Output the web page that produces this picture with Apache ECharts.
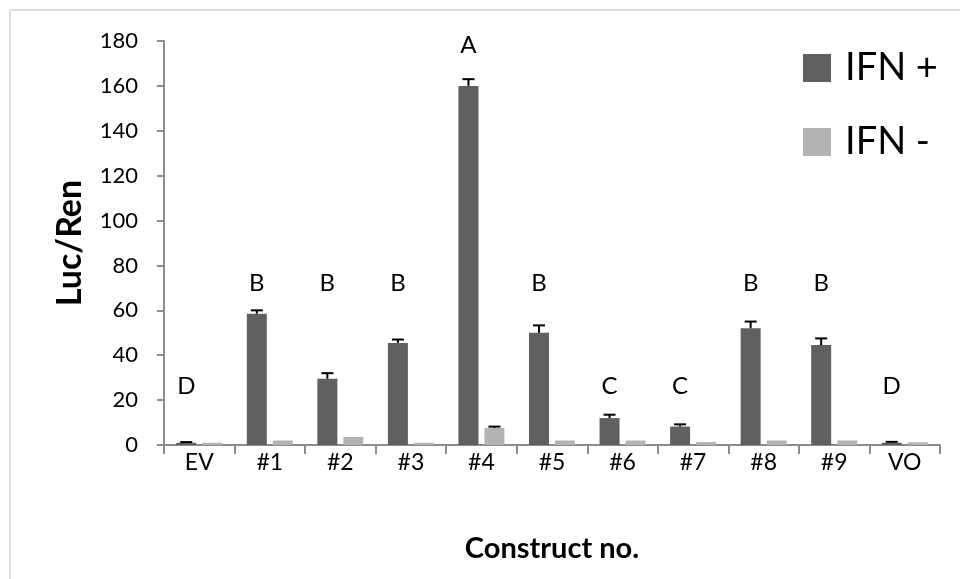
<!DOCTYPE html>
<html>
<head>
<meta charset="utf-8">
<script src="https://cdn.jsdelivr.net/npm/echarts@6/dist/echarts.min.js"></script>
<style>html,body{margin:0;padding:0;background:#fff}#c{width:960px;height:579px}</style>
</head>
<body>
<div id="c"></div>
<script>
const categories = ['EV', '#1', '#2', '#3', '#4', '#5', '#6', '#7', '#8', '#9', 'VO'];
const ifnPlus = [1, 58.5, 29.5, 45.5, 160, 50, 12, 8.2, 52, 44.5, 1];
const ifnPlusErr = [0.3, 1.5, 2.5, 1.5, 3, 3.3, 1.5, 1, 3, 3, 0.4];
const ifnMinus = [1, 2, 3.6, 1, 7.6, 2, 2, 1.3, 2, 2, 1.2];
const ifnMinusErr = [0, 0, 0, 0, 0.6, 0, 0, 0, 0, 0, 0];
const letters = ['D', 'B', 'B', 'B', 'A', 'B', 'C', 'C', 'B', 'B', 'D'];
// height (in Luc/Ren units) at which each significance letter sits
const letterLevels = [26, 72, 72, 72, 178, 72, 26, 26, 72, 72, 26];
const yTicks = [0, 20, 40, 60, 80, 100, 120, 140, 160, 180];

const DARK = '#606060', LIGHT = '#b3b3b3';
const BAR_W = 20, BAR_GAP = 6;
const OFF = (BAR_W + BAR_GAP) / 2;
const FONT = 'Lato, "Open Sans", sans-serif';

const letterData = letters.map((l, i) => [i, letterLevels[i]]);

function errSeries(vals, errs, sign) {
  return {
    type: 'custom',
    silent: true,
    z: 5,
    data: vals.map((v, i) => [i, v, v + errs[i], errs[i]]),
    renderItem: function (params, api) {
      if (api.value(3) <= 0) return null;
      const idx = api.value(0);
      const p0 = api.coord([idx, api.value(1)]);
      const p1 = api.coord([idx, api.value(2)]);
      const x = p0[0] + sign * OFF;
      return {
        type: 'group',
        children: [
          { type: 'line', shape: { x1: x, y1: p0[1], x2: x, y2: p1[1] }, style: { stroke: '#000', lineWidth: 2 } },
          { type: 'line', shape: { x1: x - 6, y1: p1[1], x2: x + 6, y2: p1[1] }, style: { stroke: '#000', lineWidth: 2 } }
        ]
      };
    }
  };
}

const legendBase = {
  orient: 'vertical',
  left: 803,
  padding: 0,
  itemWidth: 28, itemHeight: 28,
  icon: 'rect',
  textStyle: { fontSize: 38, lineHeight: 28, color: '#000', fontFamily: FONT, padding: [0, 0, 0, 9] }
};

const chart = echarts.init(document.getElementById('c'));
chart.setOption({
  animation: false,
  backgroundColor: '#fff',
  textStyle: { fontFamily: FONT },
  graphic: [
    { type: 'line', shape: { x1: 10, y1: 10, x2: 960, y2: 10 }, style: { stroke: '#dcdcdc', lineWidth: 2 } },
    { type: 'line', shape: { x1: 10, y1: 10, x2: 10, y2: 579 }, style: { stroke: '#dcdcdc', lineWidth: 2 } }
  ],
  grid: { left: 164, right: 20, top: 41, bottom: 134 },
  legend: [
    Object.assign({}, legendBase, { top: 49, data: ['IFN +'] }),
    Object.assign({}, legendBase, { top: 123, data: ['IFN -'] })
  ],
  xAxis: {
    type: 'category',
    data: categories,
    name: 'Construct no.',
    nameLocation: 'middle',
    nameGap: 89,
    nameTextStyle: { fontSize: 29, fontWeight: 'bold', color: '#000', fontFamily: FONT },
    axisLine: { lineStyle: { color: '#8c8c8c', width: 2 } },
    axisTick: { show: true, length: 9, lineStyle: { color: '#8c8c8c', width: 2 } },
    axisLabel: { fontSize: 23, color: '#000', margin: 6, fontFamily: FONT }
  },
  yAxis: {
    type: 'value',
    min: 0, max: 180, interval: 20,
    name: 'Luc/Ren',
    nameLocation: 'middle',
    nameGap: 77,
    nameRotate: 90,
    nameTextStyle: { fontSize: 34, fontWeight: 'bold', color: '#000', fontFamily: FONT },
    splitLine: { show: false },
    axisLine: { show: true, lineStyle: { color: '#8c8c8c', width: 2 } },
    axisTick: { show: true, length: 7, lineStyle: { color: '#8c8c8c', width: 2 } },
    axisLabel: { fontSize: 22, color: '#000', margin: 26, fontFamily: FONT,
      formatter: v => yTicks.includes(v) ? String(v) : '' }
  },
  series: [
    { name: 'IFN +', type: 'bar', data: ifnPlus, barWidth: BAR_W, barGap: (BAR_GAP / BAR_W * 100) + '%',
      itemStyle: { color: DARK } },
    { name: 'IFN -', type: 'bar', data: ifnMinus, barWidth: BAR_W,
      itemStyle: { color: LIGHT } },
    errSeries(ifnPlus, ifnPlusErr, -1),
    errSeries(ifnMinus, ifnMinusErr, 1),
    {
      type: 'custom',
      silent: true,
      z: 6,
      data: letterData,
      renderItem: function (params, api) {
        const p = api.coord([api.value(0), api.value(1)]);
        return {
          type: 'text',
          style: {
            x: p[0] - OFF, y: p[1],
            text: letters[params.dataIndex],
            fill: '#000',
            font: '24px ' + FONT,
            textAlign: 'center', textVerticalAlign: 'middle'
          }
        };
      }
    }
  ]
});
</script>
</body>
</html>
